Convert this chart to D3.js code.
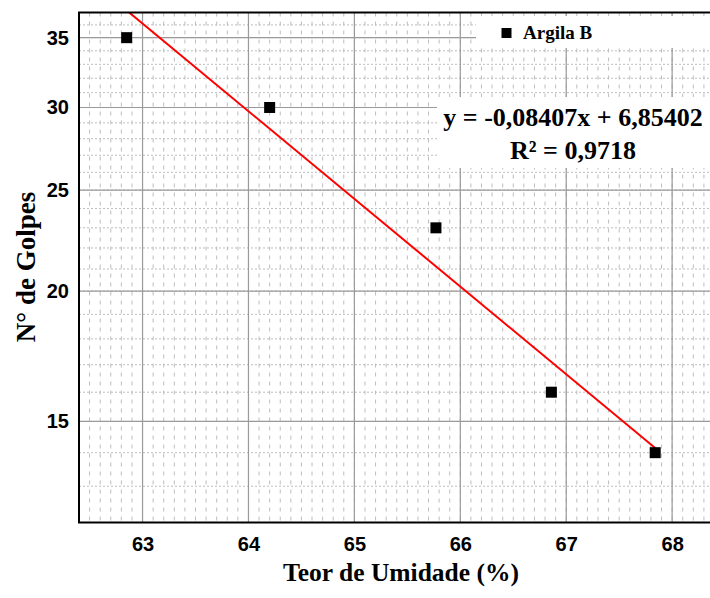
<!DOCTYPE html>
<html>
<head>
<meta charset="utf-8">
<script src="https://cdn.jsdelivr.net/npm/d3@7"></script>
<style>
  body { margin: 0; background: #fff; }
  svg { display: block; }
</style>
</head>
<body>
<script>
// data
const teor = [62.85, 64.2, 65.77, 66.86, 67.84];
const golpes = [35, 30, 23, 16, 14];
const serie = "Argila B";
// trendline as printed on the chart (log10 of N)
const slope = -0.08407, intercept = 6.85402;
const eqLines = ["y = -0,08407x + 6,85402", "R² = 0,9718"];
const xTicks = [63, 64, 65, 66, 67, 68];
const yTicks = [15, 20, 25, 30, 35];

let width = 710, height = 598;
let mLeft = 79, mTop = 12.5, mRight = 714.5, mBottom = 522.5;

let svg = d3.select("body").append("svg")
  .attr("width", width).attr("height", height);

let x = d3.scaleLinear().domain([62.4, 68.4]).range([mLeft, mRight]);
let y = d3.scaleLog().domain([12, 37]).range([mBottom, mTop]);

svg.append("clipPath").attr("id", "plot")
  .append("rect").attr("x", mLeft).attr("y", mTop)
  .attr("width", mRight - mLeft).attr("height", mBottom - mTop);

let grid = svg.append("g").attr("clip-path", "url(#plot)");

// minor grid: every 0.1 on x, every integer on y
let xMinor = d3.range(624, 685).map(d => d / 10);
let yMinor = d3.range(12, 38);

grid.selectAll(".vminor").data(xMinor).join("line")
  .attr("x1", d => x(d)).attr("x2", d => x(d))
  .attr("y1", mTop).attr("y2", mBottom)
  .attr("stroke", "#bdbdbd").attr("stroke-width", 1)
  .attr("stroke-dasharray", "4,5");

grid.selectAll(".hminor").data(yMinor).join("line")
  .attr("x1", mLeft).attr("x2", mRight)
  .attr("y1", d => y(d)).attr("y2", d => y(d))
  .attr("stroke", "#bdbdbd").attr("stroke-width", 1)
  .attr("stroke-dasharray", "2,2");

// major grid
grid.selectAll(".vmajor").data(xTicks).join("line")
  .attr("x1", d => x(d)).attr("x2", d => x(d))
  .attr("y1", mTop).attr("y2", mBottom)
  .attr("stroke", "#9a9a9a").attr("stroke-width", 1.2);

grid.selectAll(".hmajor").data(yTicks).join("line")
  .attr("x1", mLeft).attr("x2", mRight)
  .attr("y1", d => y(d)).attr("y2", d => y(d))
  .attr("stroke", "#9a9a9a").attr("stroke-width", 1.2);

// white boxes behind legend and equation
svg.append("rect").attr("x", 476).attr("y", 16).attr("width", 240).attr("height", 32)
  .attr("fill", "#fff");
svg.append("rect").attr("x", 437).attr("y", 97).attr("width", 280).attr("height", 71)
  .attr("fill", "#fff");

// trendline
let xr = d3.extent(teor);
let trend = [xr[0], xr[1]].map(t => [t, Math.pow(10, intercept + slope * t)]);
svg.append("g").attr("clip-path", "url(#plot)")
  .append("path")
  .attr("d", d3.line().x(d => x(d[0])).y(d => y(d[1]))(trend))
  .attr("stroke", "#ff0000").attr("stroke-width", 2).attr("fill", "none");

// points
let s = 11;
svg.append("g").selectAll("rect").data(teor).join("rect")
  .attr("x", d => x(d) - s / 2)
  .attr("y", (d, i) => y(golpes[i]) - s / 2)
  .attr("width", s).attr("height", s)
  .attr("fill", "#000");

// frame
svg.append("path")
  .attr("d", `M${mRight},${mTop}H${mLeft}V${mBottom}H${mRight}`)
  .attr("stroke", "#000").attr("stroke-width", 2).attr("fill", "none");

// axes (labels only)
let xAxis = svg.append("g").attr("transform", `translate(0,${mBottom})`)
  .call(d3.axisBottom(x).tickValues(xTicks).tickSize(0).tickPadding(14).tickFormat(d3.format("d")));
let yAxis = svg.append("g").attr("transform", `translate(${mLeft},0)`)
  .call(d3.axisLeft(y).tickValues(yTicks).tickSize(0).tickPadding(10).tickFormat(d3.format("d")));
[xAxis, yAxis].forEach(a => {
  a.select(".domain").remove();
  a.selectAll("text")
    .attr("font-family", "'Liberation Sans', Arial, sans-serif")
    .attr("font-weight", "bold").attr("font-size", 20).attr("fill", "#000");
});

// titles
svg.append("text").attr("x", 401).attr("y", 581)
  .attr("text-anchor", "middle")
  .attr("font-family", "'Liberation Serif', 'Times New Roman', serif")
  .attr("font-weight", "bold").attr("font-size", 25.5)
  .text("Teor de Umidade (%)");

svg.append("text")
  .attr("transform", "translate(35,267) rotate(-90)")
  .attr("text-anchor", "middle")
  .attr("font-family", "'Liberation Serif', 'Times New Roman', serif")
  .attr("font-weight", "bold").attr("font-size", 27)
  .text("N° de Golpes");

// legend
svg.append("rect").attr("x", 501.5).attr("y", 28).attr("width", 10).attr("height", 10)
  .attr("fill", "#000");
svg.append("text").attr("x", 523).attr("y", 39)
  .attr("font-family", "'Liberation Serif', 'Times New Roman', serif")
  .attr("font-weight", "bold").attr("font-size", 19)
  .text(serie);

// equation
svg.append("g").selectAll("text").data(eqLines).join("text")
  .attr("x", 573).attr("y", (d, i) => 126 + i * 33)
  .attr("text-anchor", "middle")
  .attr("font-family", "'Liberation Serif', 'Times New Roman', serif")
  .attr("font-weight", "bold").attr("font-size", 26)
  .text(d => d);
</script>
</body>
</html>
